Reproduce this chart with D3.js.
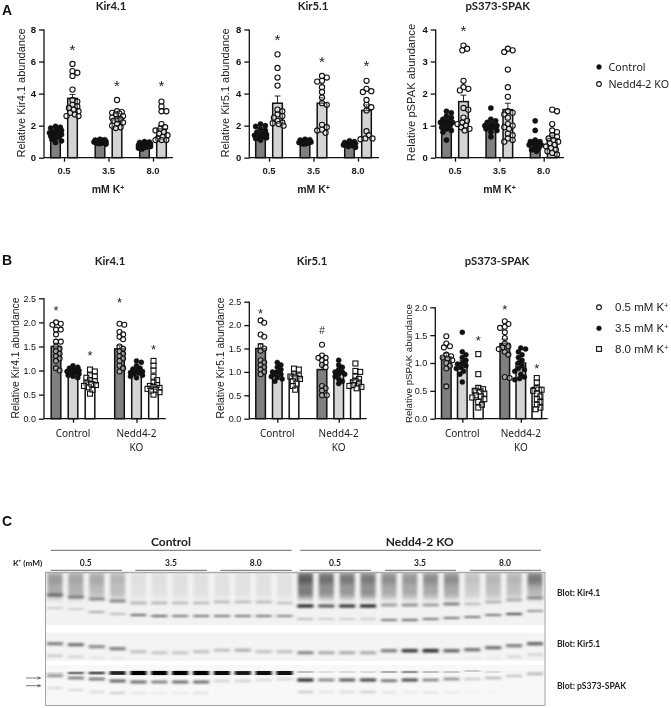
<!DOCTYPE html>
<html><head><meta charset="utf-8">
<script src="https://d3js.org/d3.v7.min.js"></script>
<style>html,body{margin:0;padding:0;background:#fff}svg{display:block;filter:blur(.3px)}</style>
</head><body><svg id="c" width="671" height="708"></svg>
<script>
// ---------- DATA: panel A ----------
const kCats = ["0.5","3.5","8.0"];
const genoSeries = ["Control","Nedd4-2 KO"];
const a1Ctrl05=[1.95,1.9,1.85,1.75,1.7,1.6,1.55,1.5,1.45,1.4,1.35,1.3,1.25,1.15,1.05,0.95];
const a1Ko05=[5.85,5.4,5.3,5.1,4.25,3.6,3.5,3.3,3.2,3.1,3.0,2.9,2.8,2.7,2.6,2.6];
const a1Ctrl35=[1.15,1.12,1.1,1.08,1.05,1.02,1.0,0.98,0.95,0.92,0.9,0.88,0.85];
const a1Ko35=[3.6,2.9,2.85,2.8,2.75,2.7,2.6,2.5,2.4,2.4,2.3,2.2,2.1,2.0,1.9,1.85];
const a1Ctrl80=[1.0,0.98,0.95,0.9,0.88,0.85,0.8,0.78,0.75,0.72,0.7,0.65,0.6,0.55];
const a1Ko80=[3.5,3.2,2.9,2.9,2.1,1.9,1.8,1.7,1.6,1.5,1.4,1.3,1.2,1.1,1.1,1.1];
const a1Means=[[1.5,3.7],[1.0,2.45],[0.8,1.8]];
const a1Sem=[[0.07,0.25],[0.02,0.12],[0.03,0.2]];
const a1Star=[[null,6.9],[null,4.6],[null,4.65]];

const a2Ctrl05=[2.1,2.0,1.95,1.8,1.7,1.6,1.5,1.45,1.4,1.35,1.3,1.25,1.2,1.1];
const a2Ko05=[6.45,5.6,5.0,4.5,3.0,2.9,2.7,2.6,2.5,2.3,2.2,2.15,2.1,2.0];
const a2Ctrl35=[1.15,1.12,1.1,1.05,1.02,1.0,0.98,0.95,0.92,0.9,0.88,0.85];
const a2Ko35=[5.1,5.0,4.8,4.75,4.4,4.1,3.75,3.4,3.3,2.05,1.9,1.75,1.7,1.55];
const a2Ctrl80=[1.05,1.0,0.95,0.92,0.9,0.88,0.85,0.8,0.78,0.75,0.7,0.65];
const a2Ko80=[4.8,4.3,4.15,4.1,3.6,3.3,3.15,2.95,1.65,1.4,1.2,1.2,1.15];
const a2Means=[[1.5,3.4],[1.0,3.4],[0.85,2.95]];
const a2Sem=[[0.08,0.45],[0.03,0.35],[0.03,0.35]];
const a2Star=[[null,7.5],[null,6.1],[null,5.9]];

const a3Ctrl05=[1.45,1.4,1.3,1.25,1.2,1.15,1.1,1.1,1.05,1.0,0.95,0.9,0.85,0.8,0.55];
const a3Ko05=[3.5,3.4,3.35,2.4,2.2,2.15,2.1,1.55,1.5,1.25,1.15,1.1,1.05,1.0,0.95,0.9,0.85];
const a3Ctrl35=[1.55,1.2,1.15,1.1,1.05,1.0,1.0,0.95,0.95,0.9,0.85,0.8,0.65];
const a3Ko35=[3.4,3.35,3.3,2.75,2.2,1.9,1.45,1.4,1.35,1.25,1.05,1.0,0.95,0.9,0.75,0.7,0.6,0.55,0.5];
const a3Ctrl80=[1.15,0.85,0.55,0.5,0.5,0.45,0.45,0.4,0.4,0.35,0.3,0.25,0.2];
const a3Ko80=[1.5,1.45,1.05,0.85,0.8,0.7,0.65,0.6,0.55,0.5,0.45,0.4,0.35,0.3,0.25,0.2,0.15,0.1];
const a3Means=[[1.12,1.75],[1.0,1.5],[0.5,0.6]];
const a3Sem=[[0.06,0.2],[0.06,0.2],[0.05,0.1]];
const a3Star=[[null,4.04],[null,null],[null,null]];

// ---------- DATA: panel B ----------
const bCats=["Control","Nedd4-2 KO"];
const kSeries=["0.5 mM K","3.5 mM K","8.0 mM K"];
const b1C05=[2.0,1.97,1.95,1.85,1.85,1.75,1.6,1.6,1.5,1.45,1.4,1.35,1.3,1.25,1.2,1.05,1.0];
const b1C35=[1.1,1.07,1.05,1.03,1.0,0.98,0.96,0.95,0.93,0.9,0.88,0.85];
const b1C80=[1.02,0.98,0.9,0.88,0.85,0.8,0.78,0.75,0.72,0.7,0.68,0.65,0.6,0.52];
const b1K05=[1.97,1.95,1.8,1.75,1.7,1.65,1.5,1.45,1.4,1.35,1.3,1.25,1.2,1.1,1.05,0.98];
const b1K35=[1.2,1.17,1.1,1.05,1.03,1.0,0.98,0.96,0.95,0.93,0.9,0.88,0.85];
const b1K80=[1.2,1.1,1.0,0.87,0.8,0.75,0.7,0.68,0.66,0.64,0.62,0.6,0.58,0.55,0.5];
const b1Means=[[1.5,1.0,0.77],[1.45,1.0,0.67]];
const b1Sem=[[0.07,0.02,0.03],[0.07,0.02,0.05]];
const b1Star=[[2.3,null,1.36],[2.47,null,1.49]];

const b2C05=[2.1,2.05,1.8,1.75,1.55,1.5,1.45,1.25,1.2,1.15,1.1,1.05,1.0,0.95];
const b2C35=[1.2,1.15,1.1,1.05,1.0,1.0,0.95,0.95,0.9,0.88,0.85,0.8];
const b2C80=[1.07,1.05,0.95,0.92,0.9,0.88,0.85,0.8,0.75,0.7,0.62];
const b2K05=[1.58,1.35,1.3,1.3,1.25,1.2,1.15,1.1,0.7,0.65,0.6,0.5,0.5];
const b2K35=[1.25,1.15,1.1,1.05,1.0,1.0,0.95,0.95,0.9,0.85,0.8,0.75];
const b2K80=[1.18,1.02,1.0,0.9,0.85,0.8,0.75,0.72,0.7,0.68,0.65];
const b2Means=[[1.5,1.0,0.92],[1.05,1.0,0.83]];
const b2Sem=[[0.1,0.03,0.04],[0.1,0.04,0.05]];
const b2Star=[[2.3,null,null],[null,null,null]];
const b2Hash=[[null,null,null],[1.9,null,null]];

const b3C05=[1.48,1.35,1.3,1.28,1.15,1.12,1.1,1.08,1.05,1.0,0.95,0.9,0.58];
const b3C35=[1.55,1.2,1.15,1.1,1.05,1.0,0.98,0.95,0.92,0.9,0.85,0.8,0.66];
const b3C80=[1.16,0.8,0.55,0.53,0.5,0.48,0.45,0.42,0.4,0.38,0.35,0.3,0.25,0.2];
const b3K05=[1.75,1.7,1.65,1.63,1.55,1.45,1.35,1.3,1.28,1.25,1.2,1.15,0.75,0.73];
const b3K35=[1.27,1.25,1.2,1.15,1.1,1.05,1.0,0.95,0.9,0.88,0.85,0.8,0.75,0.72,0.7];
const b3K80=[0.73,0.65,0.55,0.52,0.5,0.45,0.4,0.35,0.3,0.25,0.2,0.17];
const b3Means=[[1.11,1.0,0.54],[1.35,1.0,0.56]];
const b3Sem=[[0.06,0.05,0.06],[0.08,0.05,0.04]];
const b3Star=[[null,null,1.44],[2.0,null,0.95]];

// ---------- DATA: blot lane intensities (0-1) and migration (px from strip top) ----------
const laneNames=d3.range(24);
const k41Smear=[.36,.32,.3,.25,.08,.08,.08,.08,.07,.07,.07,.07,.62,.55,.5,.5,.42,.38,.42,.42,.2,.25,.25,.5];
const k41Mid=[.3,.27,.22,.22,.07,.07,.07,.07,.07,.07,.07,.07,.5,.42,.38,.42,.3,.3,.3,.3,.15,.2,.2,.25];
const k41Up=[.42,.38,.38,.42,.25,.25,.22,.22,.22,.22,.22,.18,.8,.62,.75,.8,.35,.4,.35,.45,.2,.25,.25,.35];
const k41UpPos=[23,25,27,29,31,31,31,31,30,30,30,31,34,34,34,34,33,33,33,32,32,30,28,26];
const k41Lo=[.18,.18,.3,.25,.55,.55,.5,.5,.5,.5,.5,.45,.25,.18,.18,.18,.5,.55,.5,.5,.5,.5,.65,.4];
const k41LoPos=[36,37,40,42,43,44,44,44,44,44,44,44,47,47,47,47,48,48,47,46,45,43,42,39];
const k51Main=[.45,.5,.4,.45,.2,.18,.18,.2,.2,.27,.2,.2,.42,.28,.28,.28,.45,.72,.78,.55,.5,.5,.45,.55];
const k51Pos=[11,12,14,16,19,20,20,19,17.5,17.5,19,19,20,20,20,20,18,18,18,18,17,15,13,11];
const k51Faint=[.15,.12,.06,.04,0,0,0,0,0,0,0,0,0,0,0,0,0,0,0,0,.04,.04,.1,.12];
const k51FaintPos=[23,24,25,26,26,26,26,26,26,26,26,26,26,26,26,26,26,26,26,26,26,25,24,22];
const sp1=[.1,.5,.6,.85,1,1,1,1,.95,.9,.95,.95,.25,.12,.15,.15,.3,.4,.25,.22,.2,.15,.03,.05];
const sp1Pos=[8,8,8,8,8,8,8,8,8,8,8,8,7,7,7,7,7,7,7,7,6,7,7,7];
const sp2=[.42,.48,.5,.58,.55,.48,.55,.55,.15,.15,.12,.15,.8,.45,.62,.7,.5,.68,.45,.4,.18,.25,.2,.25];
const sp2Pos=[10.7,13,14,16,17,17,17,17,16,16,15,14,15,15,15,15,15.7,15,15,14,14,13,11,9];
const sp3=[.12,.12,.12,.16,.08,.06,.06,.08,.01,.01,.01,.01,.18,.08,.12,.18,.08,.06,.08,.06,.02,.02,.01,.01];
const sp3Pos=[23,25,27,28,28,28,28,28,28,28,28,28,27,27,27,27,27.5,27.5,27.5,27.5,27,26,25,24];

// ---------- DRAWING ----------
const svg=d3.select("#c");
const SANS="'Liberation Sans',Arial,sans-serif", CAL="Lato,sans-serif", WIDE="'Noto Sans',sans-serif";
const BLACK="#111";

function swarm(vals,r,maxHalf){
  const placed=[];
  return vals.map(pt=>{
    let best=null, worst=Infinity, worstK=0;
    for(let i=0;i<40;i++){
      const k=i===0?0:(i%2?1:-1)*Math.ceil(i/2)*1.2;
      if(Math.abs(k)>maxHalf) continue;
      const dmin=placed.length?d3.min(placed,p=>Math.hypot(p.x-k,p.y-pt.py)):1e9;
      if(dmin>=r*1.7){best=k;break;}
      if(-dmin<worst){worst=-dmin;worstK=k;}
    }
    const o={x:best===null?worstK:best,y:pt.py};placed.push(o);return o.x;
  });
}

function marker(sel,shape,x,y,r){
  if(shape==="open") sel.append("circle").attr("cx",x).attr("cy",y).attr("r",r).attr("fill","#fff").attr("fill-opacity",.35).attr("stroke",BLACK).attr("stroke-width",1.1);
  else if(shape==="solid") sel.append("circle").attr("cx",x).attr("cy",y).attr("r",r).attr("fill",BLACK).attr("stroke",BLACK).attr("stroke-width",.5);
  else sel.append("rect").attr("x",x-r).attr("y",y-r).attr("width",2*r).attr("height",2*r).attr("fill","#fff").attr("fill-opacity",.35).attr("stroke",BLACK).attr("stroke-width",1.1);
}

function panel(c){
  const g=svg.append("g");
  const y=d3.scaleLinear().domain([0,c.yMax]).range([c.y0,c.yTop]);
  const x0=d3.scalePoint().domain(c.cats).range(c.xTicks);
  const x1=d3.scalePoint().domain(c.series).range([-c.off,c.off]);
  c.cats.forEach((cat,i)=>c.series.forEach((s,j)=>{
    const cx=x0(cat)+x1(s), m=c.means[i][j], sem=c.sem[i][j];
    const bg=g.append("g");
    bg.append("rect").attr("x",cx-c.barW/2).attr("width",c.barW).attr("y",y(m)).attr("height",y(0)-y(m))
      .attr("fill",c.fills[j]).attr("stroke",BLACK).attr("stroke-width",1.5);
    bg.append("path").attr("d",`M${cx-3},${y(m+sem)}H${cx+3}M${cx},${y(m+sem)}V${y(m)}`).attr("stroke",BLACK).attr("fill","none").attr("stroke-width",.9);
    const pts=c.points[i][j].map(v=>({v,py:y(v)}));
    const offs=swarm(pts,c.r,c.barW/2+1.5);
    pts.forEach((p,k)=>marker(bg,c.shapes[j],cx+offs[k],p.py,c.r));
    [[c.stars,"*"],[c.hash,"#"]].forEach(([arr,ch])=>{
      if(arr&&arr[i][j]!=null) g.append("text").attr("x",cx).attr("y",y(arr[i][j])+(ch==="*"?c.starDy:4)).attr("text-anchor","middle")
        .attr("font-family",SANS).attr("font-size",ch==="*"?c.starSize:10).attr("fill","#222").text(ch);
    });
  }));
  const ya=g.append("g").attr("transform",`translate(${c.xAxis},0)`)
    .call(d3.axisLeft(y).tickValues(c.yTicks).tickFormat(c.yFmt).tickSize(5).tickPadding(3));
  ya.selectAll("path,line").attr("stroke",BLACK).attr("stroke-width",1.3);
  ya.selectAll("text").attr("font-family",SANS).attr("font-size",c.tickSize).attr("font-weight",c.tickW).attr("fill","#111");
  ya.select(".domain").attr("d",`M0,${c.yTop}V${c.y0}`);
  const xa=g.append("g").attr("transform",`translate(0,${c.y0})`)
    .call(d3.axisBottom(x0).tickSize(c.xTick).tickFormat("").tickPadding(3));
  xa.selectAll("line").attr("stroke",BLACK).attr("stroke-width",1.3);
  xa.select(".domain").attr("d",`M${c.xAxis},0H${c.xEnd}`).attr("stroke",BLACK).attr("stroke-width",1.3);
  c.cats.forEach(cat=>{
    const lines=c.catLines?c.catLines(cat):[cat];
    lines.forEach((l,n)=>g.append("text").attr("x",x0(cat)).attr("y",c.xLabY+n*13.5).attr("text-anchor","middle")
      .attr("font-family",c.xFont).attr("font-size",c.xSize).attr("font-weight",c.xW).attr("fill","#222").text(l));
  });
  g.append("text").attr("transform",`translate(${c.yLabX},${(c.yLabMid)}) rotate(-90)`).attr("text-anchor","middle")
    .attr("font-family",SANS).attr("font-size",c.yLabSize).attr("fill","#222").text(c.yLabel);
  g.append("text").attr("x",c.titleX).attr("y",c.titleY).attr("text-anchor","middle")
    .attr("font-family",CAL).attr("font-weight",700).attr("font-size",11.3).attr("fill","#222").text(c.title);
  if(c.xName){
    const t=g.append("text").attr("x",c.xNameX).attr("y",193).attr("text-anchor","middle")
     .attr("font-family",SANS).attr("font-weight",700).attr("font-size",10.5).attr("fill","#222");
    t.append("tspan").text("mM K");
    t.append("tspan").attr("dy",-3.5).attr("font-size",7).text("+");
  }
}

const aBase={cats:kCats,series:genoSeries,y0:157.7,yTop:29.5,off:8.5,barW:9.6,r:2.6,
  fills:["#7f7f7f","#d4d4d4"],shapes:["solid","open"],tickSize:9.5,tickW:700,xFont:SANS,xSize:9.5,xW:700,xLabY:174,
  xTick:4,starDy:7.5,starSize:15,yLabSize:11,yFmt:d=>d};
panel({...aBase,title:"Kir4.1",titleX:111,titleY:10,xAxis:44,xEnd:173,xTicks:[64,153],yMax:8,yTicks:[0,2,4,6,8],
  points:[[a1Ctrl05,a1Ko05],[a1Ctrl35,a1Ko35],[a1Ctrl80,a1Ko80]],means:a1Means,sem:a1Sem,stars:a1Star,
  yLabel:"Relative Kir4.1 abundance",yLabX:25,yLabMid:93,xName:1,xNameX:108});
panel({...aBase,title:"Kir5.1",titleX:313,titleY:10,xAxis:249.3,xEnd:379,xTicks:[269,358],yMax:8,yTicks:[0,2,4,6,8],
  points:[[a2Ctrl05,a2Ko05],[a2Ctrl35,a2Ko35],[a2Ctrl80,a2Ko80]],means:a2Means,sem:a2Sem,stars:a2Star,
  yLabel:"Relative Kir5.1 abundance",yLabX:229,yLabMid:93,xName:1,xNameX:313.5});
panel({...aBase,title:"pS373-SPAK",titleX:497.7,titleY:10,xAxis:435.7,xEnd:564,xTicks:[455,543.7],yMax:4,yTicks:[0,1,2,3,4],
  points:[[a3Ctrl05,a3Ko05],[a3Ctrl35,a3Ko35],[a3Ctrl80,a3Ko80]],means:a3Means,sem:a3Sem,stars:a3Star,
  yLabel:"Relative pSPAK abundance",yLabX:415,yLabMid:92.5,yLabSize:11.2,xName:1,xNameX:499.5});

const bBase={cats:bCats,series:kSeries,y0:418.7,fills:["#7f7f7f","#d4d4d4","#fff"],shapes:["open","solid","square"],
  tickSize:9,tickW:400,xFont:WIDE,xSize:10,xW:400,xLabY:437,xTick:4,starDy:7,starSize:13,r:2.5,barW:9.6,
  yFmt:d3.format(".1f"),catLines:c=>c==="Nedd4-2 KO"?["Nedd4-2","KO"]:[c]};
panel({...bBase,title:"Kir4.1",titleX:110,titleY:265,xAxis:44,xEnd:165.7,yTop:298.3,off:17,xTicks:[73,136.5],yMax:2.5,yTicks:[0,.5,1,1.5,2,2.5],
  points:[[b1C05,b1C35,b1C80],[b1K05,b1K35,b1K80]],means:b1Means,sem:b1Sem,stars:b1Star,
  yLabel:"Relative Kir4.1 abundance",yLabX:19,yLabMid:358,yLabSize:10.3});
panel({...bBase,title:"Kir5.1",titleX:312,titleY:265,xAxis:249.3,xEnd:366.7,yTop:301.7,off:16.7,xTicks:[277.3,338.7],yMax:2.5,yTicks:[0,.5,1,1.5,2,2.5],
  points:[[b2C05,b2C35,b2C80],[b2K05,b2K35,b2K80]],means:b2Means,sem:b2Sem,stars:b2Star,hash:b2Hash,
  yLabel:"Relative Kir5.1 abundance",yLabX:224,yLabMid:358,yLabSize:10.3});
panel({...bBase,title:"pS373-SPAK",titleX:497,titleY:265,xAxis:435.3,xEnd:547.7,yTop:307.3,off:16,xTicks:[462.3,520.8],yMax:2,yTicks:[0,.5,1,1.5,2],
  points:[[b3C05,b3C35,b3C80],[b3K05,b3K35,b3K80]],means:b3Means,sem:b3Sem,stars:b3Star,
  yLabel:"Relative pSPAK abundance",yLabX:412.3,yLabMid:363.6,yLabSize:9.7});

[["A",2,14.5],["B",2,264.5],["C",2,525.5]].forEach(([t,x,y])=>svg.append("text").attr("x",x).attr("y",y)
  .attr("font-family",SANS).attr("font-weight",700).attr("font-size",14).attr("fill","#111").text(t));

const legA=svg.append("g");
genoSeries.forEach((s,i)=>{
  const yy=[67,84][i];
  marker(legA,["solid","open"][i],599,yy,2.4);
  legA.append("text").attr("x",608.5).attr("y",yy+3.7).attr("font-family",WIDE).attr("font-size",10.7).attr("fill","#222").text(s);
});
const legB=svg.append("g");
kSeries.forEach((s,i)=>{
  const yy=[307.3,328.3,349][i];
  marker(legB,["open","solid","square"][i],599,yy,2.4);
  const t=legB.append("text").attr("x",615).attr("y",yy+4).attr("font-family",SANS).attr("font-size",11.5).attr("fill","#222");
  t.append("tspan").text(s);
  t.append("tspan").attr("dy",-3.5).attr("font-size",7).text("+");
});

// ---------- Panel C: blot ----------
const defs=svg.append("defs");
const blur=(id,a,b)=>defs.append("filter").attr("id",id).attr("x","-30%").attr("y","-150%").attr("width","160%").attr("height","400%")
  .append("feGaussianBlur").attr("stdDeviation",`${a} ${b}`);
blur("bandBlur",1.7,1.0); blur("tightBlur",1.5,.6); blur("smearBlur",1.6,3);
const lane=d3.scalePoint().domain(laneNames).range([55,535]);
const blotX=[45.5,545];
const ink=d3.scaleLinear().domain([0,1]).range([0,1]);
const strips=[
  {top:572,bottom:625,bg:"#f2f2f2",clip:"s0"},
  {top:632.7,bottom:660.7,bg:"#f4f4f4",clip:"s1"},
  {top:665,bottom:705,bg:"#f8f8f8",clip:"s2"}];
strips.forEach(s=>defs.append("clipPath").attr("id",s.clip).append("rect").attr("x",blotX[0]).attr("y",s.top).attr("width",blotX[1]-blotX[0]).attr("height",s.bottom-s.top));
const blot=svg.append("g");
strips.forEach(s=>blot.append("rect").attr("x",blotX[0]).attr("y",s.top).attr("width",blotX[1]-blotX[0]).attr("height",s.bottom-s.top).attr("fill",s.bg));
function band(strip,vals,pos,h,w,flt,grow){
  const g=blot.append("g").attr("clip-path",`url(#${strip.clip})`);
  const hh=d=>h+(grow||0)*vals[d];
  g.selectAll("rect").data(laneNames).join("rect")
    .attr("x",d=>lane(d)-w/2).attr("width",w)
    .attr("y",d=>strip.top+(pos?pos[d]:0)-hh(d)/2).attr("height",hh)
    .attr("fill","#000").attr("fill-opacity",d=>ink(vals[d])).attr("filter",`url(#${flt})`);
}
const topPos=laneNames.map(()=>7), midPos=laneNames.map(()=>20);
band(strips[0],k41Smear,topPos,14,15,"smearBlur");
band(strips[0],k41Mid,midPos,12,15,"smearBlur");
band(strips[0],k41Up,k41UpPos,2.6,16,"bandBlur",1);
band(strips[0],k41Lo,k41LoPos,1.6,16,"bandBlur",1);
band(strips[1],k51Main,k51Pos,3,16,"bandBlur",1);
band(strips[1],k51Faint,k51FaintPos,3,15,"bandBlur");
band(strips[2],sp1,sp1Pos,1.2,16,"tightBlur",3);
band(strips[2],sp2,sp2Pos,2.4,16,"bandBlur",1.2);
band(strips[2],sp3,sp3Pos,2.4,15,"bandBlur");
blot.append("path").attr("d",`M${blotX[0]},572.5H${blotX[1]}`).attr("stroke","#aaa").attr("stroke-width",1.6);
blot.append("path").attr("d",`M${blotX[1]},572V705.5H${blotX[0]}V572`).attr("fill","none").attr("stroke","#999").attr("stroke-width",.9);

[678,685.7].forEach(yy=>{
  svg.append("path").attr("d",`M26,${yy}H40.5M37.5,${yy-1.3}L40.5,${yy}L37.5,${yy+1.3}`).attr("fill","none").attr("stroke","#222").attr("stroke-width",.6);
});
const topGroups=[["Control",50.7,291.7,171],["Nedd4-2 KO",300,541,419.7]];
const subGroups=[["0.5",50.7,122,85.7],["3.5",135.3,207,171],["8.0",220.3,291.7,255.7],["0.5",300,371,335],["3.5",385,456,420],["8.0",469.7,541,505]];
topGroups.forEach(([t,a,b,m])=>{
  svg.append("path").attr("d",`M${a},550.3H${b}`).attr("stroke","#444").attr("stroke-width",.8);
  svg.append("text").attr("x",m).attr("y",545.8).attr("text-anchor","middle").attr("font-family",CAL).attr("font-weight",700).attr("font-size",12).attr("fill","#222").text(t);
});
subGroups.forEach(([t,a,b,m])=>{
  svg.append("path").attr("d",`M${a},570.3H${b}`).attr("stroke","#444").attr("stroke-width",.8);
  svg.append("text").attr("x",m).attr("y",566).attr("text-anchor","middle").attr("font-family",CAL).attr("font-weight",700).attr("font-size",8.5).attr("fill","#222").text(t);
});
svg.append("text").attr("x",13).attr("y",566).attr("font-family",CAL).attr("font-weight",700).attr("font-size",8.2).attr("fill","#222").text("K⁺ (mM)");
[["Blot: Kir4.1",593],["Blot: Kir5.1",644],["Blot: pS373-SPAK",686]].forEach(([t,yy])=>
  svg.append("text").attr("x",557).attr("y",yy+3).attr("font-family",CAL).attr("font-weight",700).attr("font-size",8.6).attr("fill","#222").text(t));
</script></body></html>
